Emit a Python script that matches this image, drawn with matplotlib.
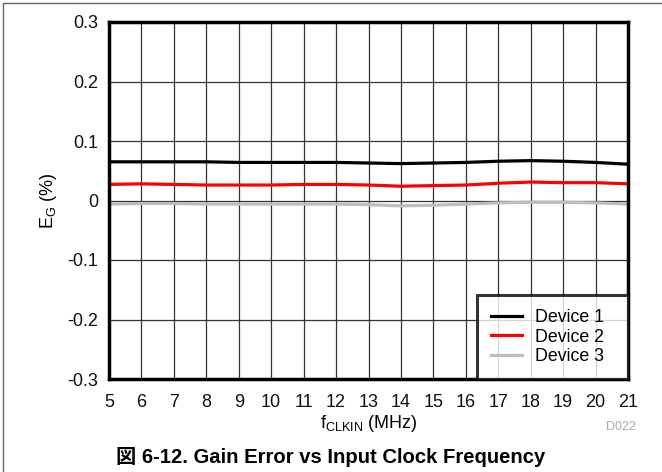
import matplotlib
matplotlib.use("Agg")
import matplotlib.pyplot as plt
from matplotlib.patches import Rectangle

plt.rcParams['font.family'] = ['Liberation Sans', 'Noto Sans CJK JP', 'DejaVu Sans']
plt.rcParams['mathtext.fontset'] = 'custom'
plt.rcParams['mathtext.rm'] = 'Liberation Sans'

freq = [5, 6, 7, 8, 9, 10, 11, 12, 13, 14, 15, 16, 17, 18, 19, 20, 21]
device1 = [0.065, 0.065, 0.065, 0.065, 0.064, 0.064, 0.064, 0.064, 0.063, 0.062, 0.063, 0.064, 0.066, 0.067, 0.066, 0.064, 0.061]
device2 = [0.027, 0.028, 0.027, 0.026, 0.026, 0.026, 0.027, 0.027, 0.026, 0.024, 0.025, 0.026, 0.029, 0.031, 0.030, 0.030, 0.028]
device3 = [-0.006, -0.005, -0.005, -0.006, -0.006, -0.006, -0.006, -0.006, -0.007, -0.009, -0.008, -0.006, -0.004, -0.003, -0.003, -0.004, -0.006]
series_names = ['Device 1', 'Device 2', 'Device 3']
series_colors = ['#000000', '#ff0000', '#bdbdbd']
ytick_vals = [-0.3, -0.2, -0.1, 0, 0.1, 0.2, 0.3]
ytick_labels = ['-0.3', '-0.2', '-0.1', '0', '0.1', '0.2', '0.3']

fig = plt.figure(figsize=(6.62, 4.72), dpi=100)
ax = fig.add_axes([109/662, 1-379/472, (628-109)/662, (379-22)/472])

for vals, name, col in zip([device1, device2, device3], series_names, series_colors):
    ax.plot(freq, vals, color=col, lw=2.3, label=name, zorder=3)

ax.set_xlim(5, 21)
ax.set_ylim(-0.3, 0.3)
ax.set_xticks(freq)
ax.set_xticklabels([str(f) for f in freq])
ax.set_yticks(ytick_vals)
ax.set_yticklabels(ytick_labels)
ax.tick_params(axis='x', length=0, labelsize=13, pad=11, colors='#111111')
ax.tick_params(axis='y', length=0, labelsize=13, pad=8, colors='#111111')
ax.grid(True, color='#333333', lw=0.9)
for s in ax.spines.values():
    s.set_linewidth(2.5)
    s.set_zorder(5)

ax.set_xlabel(r'f$_\mathregular{CLKIN}$ (MHz)', fontsize=13, labelpad=1)
ax.set_ylabel(r'E$_\mathregular{G}$ (%)', fontsize=13, labelpad=6)

leg = ax.legend(loc='lower right', fontsize=12.8, frameon=True, fancybox=False,
                bbox_to_anchor=((477-109)/519, 0, 1-(477-109)/519, 1), mode='expand',
                borderaxespad=0, handlelength=1.75, handletextpad=0.75,
                labelspacing=0.14, borderpad=0.78)
leg.get_frame().set_edgecolor('black')
leg.get_frame().set_linewidth(2.2)
leg.set_zorder(6)

fig.text(636/662, 1-427/472, 'D022', color='#aaaaaa', fontsize=9, ha='right', va='center')
fig.text(331/662, 1-457/472, '図 6-12. Gain Error vs Input Clock Frequency',
         fontsize=14.6, fontweight='bold', ha='center', va='center')

fig.patches.append(Rectangle((3/662, -0.1), 1.2, 1 - 3/472 + 0.1, transform=fig.transFigure,
                             fill=False, edgecolor='#666666', lw=1.0))

fig.savefig('out.png', dpi=100)
